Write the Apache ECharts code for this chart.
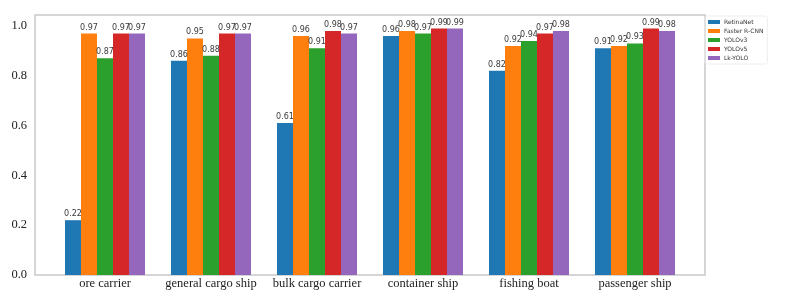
<!DOCTYPE html>
<html><head><meta charset="utf-8">
<script src="https://cdn.jsdelivr.net/npm/echarts@6/dist/echarts.min.js"></script>
<style>html,body{margin:0;padding:0;background:#fff}#c{width:786px;height:305px}</style>
</head><body><div id="c"></div>
<script>
const categories = ["ore carrier","general cargo ship","bulk cargo carrier","container ship","fishing boat","passenger ship"];
const seriesNames = ["RetinaNet","Faster R-CNN","YOLOv3","YOLOv5","Lk-YOLO"];
const retinaNet = [0.22,0.86,0.61,0.96,0.82,0.91];
const fasterRCNN = [0.97,0.95,0.96,0.98,0.92,0.92];
const yolov3 = [0.87,0.88,0.91,0.97,0.94,0.93];
const yolov5 = [0.97,0.97,0.98,0.99,0.97,0.99];
const lkYolo = [0.97,0.97,0.97,0.99,0.98,0.98];
const yTicks = [0.0,0.2,0.4,0.6,0.8,1.0];
const colors = ["#1f77b4","#ff7f0e","#2ca02c","#d62728","#9467bd"];
const allData = [retinaNet,fasterRCNN,yolov3,yolov5,lkYolo];

const chart = echarts.init(document.getElementById('c'), null, {renderer:'canvas'});
const YMAX = 1.044;
chart.setOption({
  animation:false,
  color: colors,
  grid:[
    {left:35, right:81, top:15, bottom:30, show:true, borderColor:'#c8c8c8', borderWidth:1.5},
    {left:52, right:98, top:15, bottom:30}
  ],
  legend:{
    orient:'vertical', left:705, top:16, itemWidth:12, itemHeight:4, itemGap:3,
    padding:[3,4,3,3], borderColor:'#eeeeee', borderWidth:1, borderRadius:2,
    textStyle:{fontSize:6, color:'#333', fontFamily:'DejaVu Sans', padding:[0,0,0,-1]},
    icon:'rect', data: seriesNames
  },
  xAxis:[
    {gridIndex:0, type:'value', min:0, max:1, show:false},
    {gridIndex:1, type:'category', data:categories, boundaryGap:true,
     axisLine:{show:false}, axisTick:{show:false},
     axisLabel:{interval:0, hideOverlap:false, fontFamily:'Liberation Serif', fontSize:12.5, color:'#222', margin:2}}
  ],
  yAxis:[
    {gridIndex:0, type:'value', min:0, max:YMAX, interval:0.2,
     axisLine:{show:false}, axisTick:{show:false}, splitLine:{show:false},
     axisLabel:{fontFamily:'Liberation Serif', fontSize:12.5, color:'#222', margin:8,
       customValues: yTicks,
       formatter:v=>v.toFixed(1)}},
    {gridIndex:1, type:'value', min:0, max:YMAX, show:false}
  ],
  series: seriesNames.map((n,i)=>({
    name:n, type:'bar', xAxisIndex:1, yAxisIndex:1, data: allData[i],
    barWidth:16, barGap:'0%',
    itemStyle:{color:colors[i]},
    label:{show:true, position:'top', distance:2, fontSize:8, color:'#3a3a3a',
      fontFamily:'DejaVu Sans', formatter:p=>p.value.toFixed(2)}
  }))
});
</script></body></html>
